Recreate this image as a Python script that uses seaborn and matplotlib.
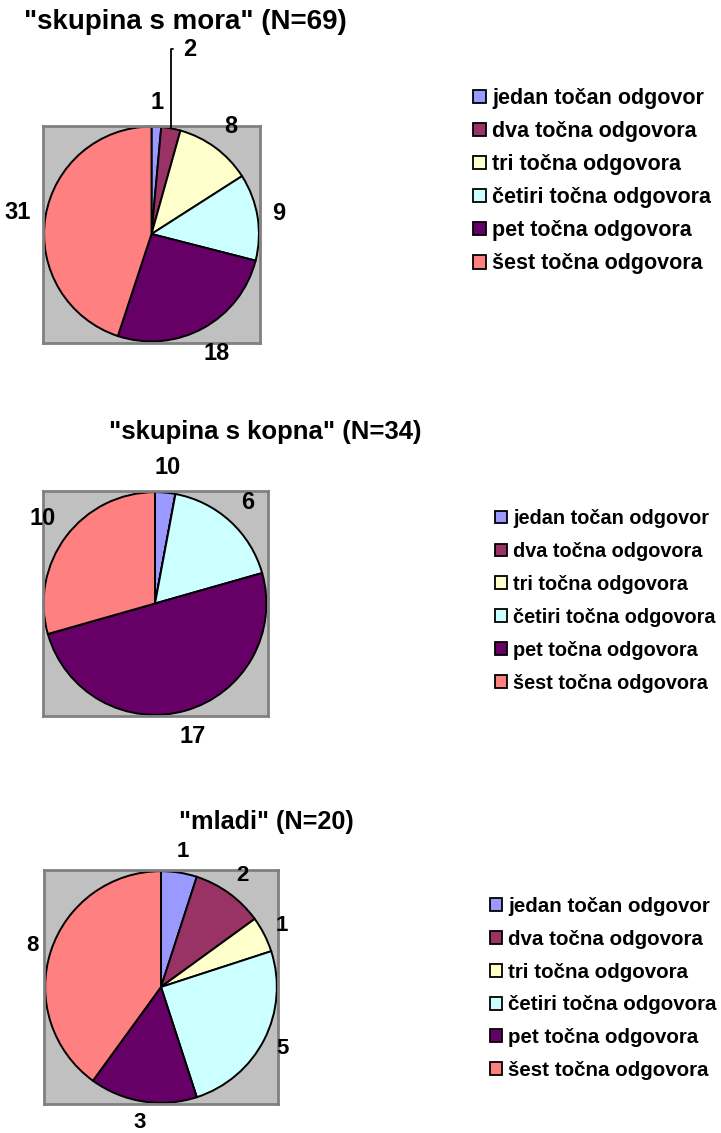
import numpy as np
import seaborn as sns
import matplotlib
matplotlib.use("Agg")
import matplotlib.pyplot as plt
from matplotlib.patches import Patch

# === Data ===
categories = ["jedan točan odgovor", "dva točna odgovora", "tri točna odgovora",
              "četiri točna odgovora", "pet točna odgovora", "šest točna odgovora"]
colors_hex = ["#9999FF", "#993366", "#FFFFCC", "#CCFFFF", "#660066", "#FF8080"]

titles = ['"skupina s mora" (N=69)', '"skupina s kopna" (N=34)', '"mladi" (N=20)']

more_values = [1, 2, 8, 9, 18, 31]
kopno_values = [1, 0, 0, 6, 17, 10]
mladi_values = [1, 2, 1, 5, 3, 8]

# labels as printed (on "kopno" the "1" runs into the zero labels -> "10")
more_labels = ["1", "2", "8", "9", "18", "31"]
kopno_labels = ["10", "", "", "6", "17", "10"]
mladi_labels = ["1", "2", "1", "5", "3", "8"]

# === Style ===
sns.set_style("white")
plt.rcParams["font.family"] = ["Liberation Sans", "DejaVu Sans"]
plt.rcParams["text.color"] = "black"
palette = sns.color_palette(colors_hex)

W, H = 721, 1133
fig = plt.figure(figsize=(W / 100, H / 100), dpi=100)


def draw_panel(values, labels, title, box, title_xy, title_fs, lab_fs,
               leg_xy, leg_fs, leg_spacing, leader=None, gap=13):
    x0, y0, x1, y1 = box
    lim = 1.01
    ax = fig.add_axes([x0 / W, 1 - y1 / H, (x1 - x0) / W, (y1 - y0) / H])
    wedges, _ = ax.pie(values, colors=palette, startangle=90, counterclock=False,
                       wedgeprops=dict(edgecolor="black", linewidth=1.4), frame=True)
    ax.set_xlim(-lim, lim)
    ax.set_ylim(-lim, lim)
    ax.set_facecolor("#C0C0C0")
    ax.set_xticks([])
    ax.set_yticks([])
    for s in ax.spines.values():
        s.set_color("#808080")
        s.set_linewidth(2)

    # data labels just outside the circle
    r_px = (x1 - x0) / (2 * lim)
    fs_px = lab_fs * 100 / 72
    for i, (w, lbl) in enumerate(zip(wedges, labels)):
        if not lbl:
            continue
        a = np.deg2rad((w.theta1 + w.theta2) / 2)
        ux, uy = np.cos(a), np.sin(a)
        if leader is not None and i == leader[0]:
            ax.annotate(lbl, xy=(ux, uy), xytext=leader[1], ha="center", va="center",
                        fontsize=lab_fs, fontweight="bold", annotation_clip=False,
                        arrowprops=dict(arrowstyle="-", color="black", lw=1.3,
                                        shrinkA=5, shrinkB=0, relpos=(0, 0.5),
                                        connectionstyle="angle,angleA=180,angleB=90,rad=0"))
            continue
        tw = len(lbl) * 0.556 * fs_px
        th = 0.72 * fs_px
        off = (r_px + gap + 0.5 * (tw * abs(ux) + th * 1.3 * abs(uy))) / r_px
        ax.text(off * ux, off * uy, lbl, ha="center", va="center",
                fontsize=lab_fs, fontweight="bold")

    fig.text(title_xy[0] / W, 1 - title_xy[1] / H, title, ha="center", va="center",
             fontsize=title_fs, fontweight="bold")

    handles = [Patch(facecolor=c, edgecolor="black", linewidth=1.3, label=l)
               for c, l in zip(palette, categories)]
    fig.legend(handles=handles, loc="upper left",
               bbox_to_anchor=(leg_xy[0] / W, 1 - leg_xy[1] / H),
               frameon=False, prop=dict(weight="bold", size=leg_fs),
               handlelength=0.6, handleheight=0.6, handletextpad=0.3,
               labelspacing=leg_spacing, borderpad=0, borderaxespad=0)


draw_panel(more_values, more_labels, titles[0], (43, 125, 260, 343),
           (185, 22), 20, 17, (473, 88), 15.5, 0.56, leader=(1, (0.36, 1.72)))
draw_panel(kopno_values, kopno_labels, titles[1], (42, 491, 268, 716),
           (265, 432), 18.5, 17, (495, 509), 14.3, 0.7)
draw_panel(mladi_values, mladi_labels, titles[2], (44, 870, 278, 1104),
           (266, 822), 18.2, 16, (490, 897), 14.8, 0.67, gap=10)

fig.savefig("out.png", dpi=100)
